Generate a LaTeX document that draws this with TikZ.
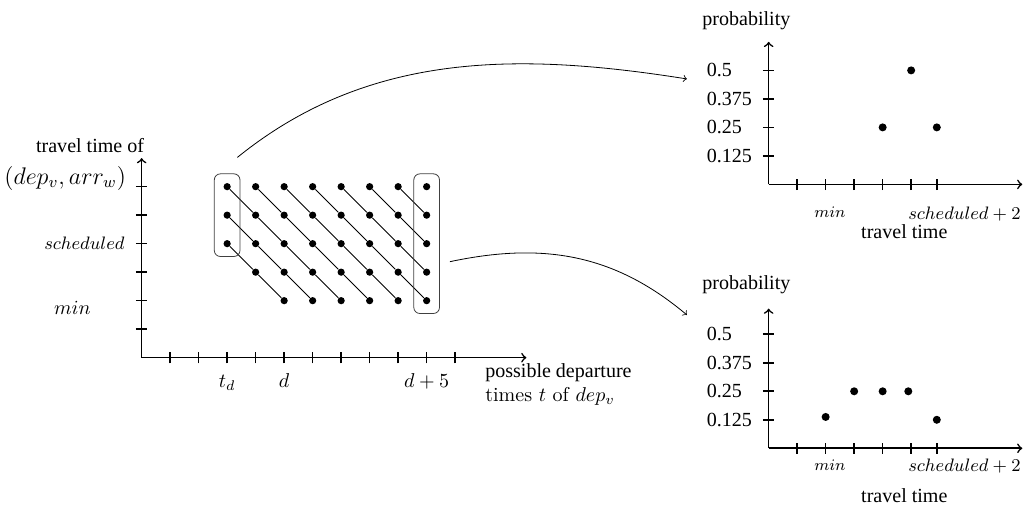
\documentclass[tikz,border=0pt]{standalone}
\usepackage{amsmath}
\usepackage{fontspec}
\newfontfamily\timesfont{Liberation Serif}
\usetikzlibrary{fit}

\begin{document}
\begin{tikzpicture}[x=0.5cm,y=0.5cm,font=\timesfont,
  dot/.style={circle,fill,inner sep=0pt,minimum size=3.6pt},
  grp/.style={draw=black!75,rounded corners=3pt,inner sep=4.4pt},
  axis/.style={->,thick}]
\useasboundingbox (-4.97,-5.2) rectangle (30.96,12.55);
% departure times against travel times
\draw[axis] (0,0)--(13.5,0);
\draw[axis] (0,0)--(0,7);
\foreach \i in {1,...,11} \draw[thick] (\i,-.2)--(\i,.2);
\foreach \j in {1,...,6} \draw[thick] (-.2,\j)--(.2,\j);
\node (ylab) at (-1.81,7.46) {travel time of};
\node[anchor=east] (ypair) at (-0.3,6.3) {\large$(dep_v,arr_w)$};
\node[anchor=east] (ysched) at (-0.35,4) {\small$scheduled$};
\node (ymin) at (-2.43,1.74) {$min$};
\node[anchor=base] (xtd) at (3,-1.06) {$t_d$};
\node[anchor=base] (xd) at (5,-1.06) {$d$};
\node[anchor=base] (xdf) at (10,-1.06) {$d+5$};
\node[anchor=base west,align=left] (xlab) at (11.81,-1.55)
  {possible departure\\{\normalfont times $t$ of $dep_v$}};
\foreach \i in {3,...,10}
  \foreach \j in {2,...,6}{
    \ifnum\numexpr\i+\j>6
      \node[dot] (p-\i-\j) at (\i,\j) {};
    \fi}
\foreach \i in {3,...,9}
  \foreach \j in {3,...,6}{
    \ifnum\numexpr\i+\j>6
      \pgfmathtruncatemacro{\ni}{\i+1}
      \pgfmathtruncatemacro{\nj}{\j-1}
      \draw (p-\i-\j)--(p-\ni-\nj);
    \fi}
\node[grp,fit=(p-3-6)(p-3-4)] (lbox) {};
\node[grp,fit=(p-10-6)(p-10-2)] (rbox) {};
% distribution for t_d
\begin{scope}[shift={(22,6.08)}]
  \draw[axis] (0,0)--(8.9,0);
  \draw[axis] (0,0)--(0,5);
  \foreach \i in {1,2,3,4,5,5.9} \draw[thick] (\i,-.2)--(\i,.2);
  \foreach \j/\p in {1/0.125,2/0.25,3/0.375,4/0.5}{
    \draw[thick] (-.2,\j)--(.2,\j);
    \node[anchor=west] (tp\j) at (-2.42,\j) {\p};}
  \node (tprob) at (-0.78,5.76) {probability};
  \node (tmin) at (2.15,-0.97) {\footnotesize$min$};
  \node (tsched) at (6.87,-1.04) {\small$scheduled+2$};
  \node (ttime) at (4.76,-1.67) {travel time};
  \fill (4,2) circle (2pt);
  \fill (5,4) circle (2pt);
  \fill (5.9,2) circle (2pt);
  \coordinate (tin) at (-2.87,3.7);
\end{scope}
% distribution for d+5
\begin{scope}[shift={(22,-3.18)}]
  \draw[axis] (0,0)--(8.9,0);
  \draw[axis] (0,0)--(0,4.9);
  \foreach \i in {1,2,3,4,5,5.9} \draw[thick] (\i,-.2)--(\i,.2);
  \foreach \j/\p in {1/0.125,2/0.25,3/0.375,4/0.5}{
    \draw[thick] (-.2,\j)--(.2,\j);
    \node[anchor=west] (bp\j) at (-2.42,\j) {\p};}
  \node (bprob) at (-0.78,5.73) {probability};
  \node (bmin) at (2.15,-0.59) {\footnotesize$min$};
  \node (bsched) at (6.87,-0.62) {\small$scheduled+2$};
  \node (btime) at (4.76,-1.67) {travel time};
  \fill (2,1.1) circle (2pt);
  \fill (3,2) circle (2pt);
  \fill (4,2) circle (2pt);
  \fill (4.9,2) circle (2pt);
  \fill (5.9,1) circle (2pt);
  \coordinate (bin) at (-2.87,4.68);
\end{scope}
\draw[->] ([xshift=-1.5pt,yshift=8pt]lbox.north east)
  to[out=39,in=171,looseness=.95] (tin);
\draw[->] ([xshift=5pt,yshift=-9pt]rbox.east) to[out=12,in=140] (bin);
\end{tikzpicture}
\end{document}
